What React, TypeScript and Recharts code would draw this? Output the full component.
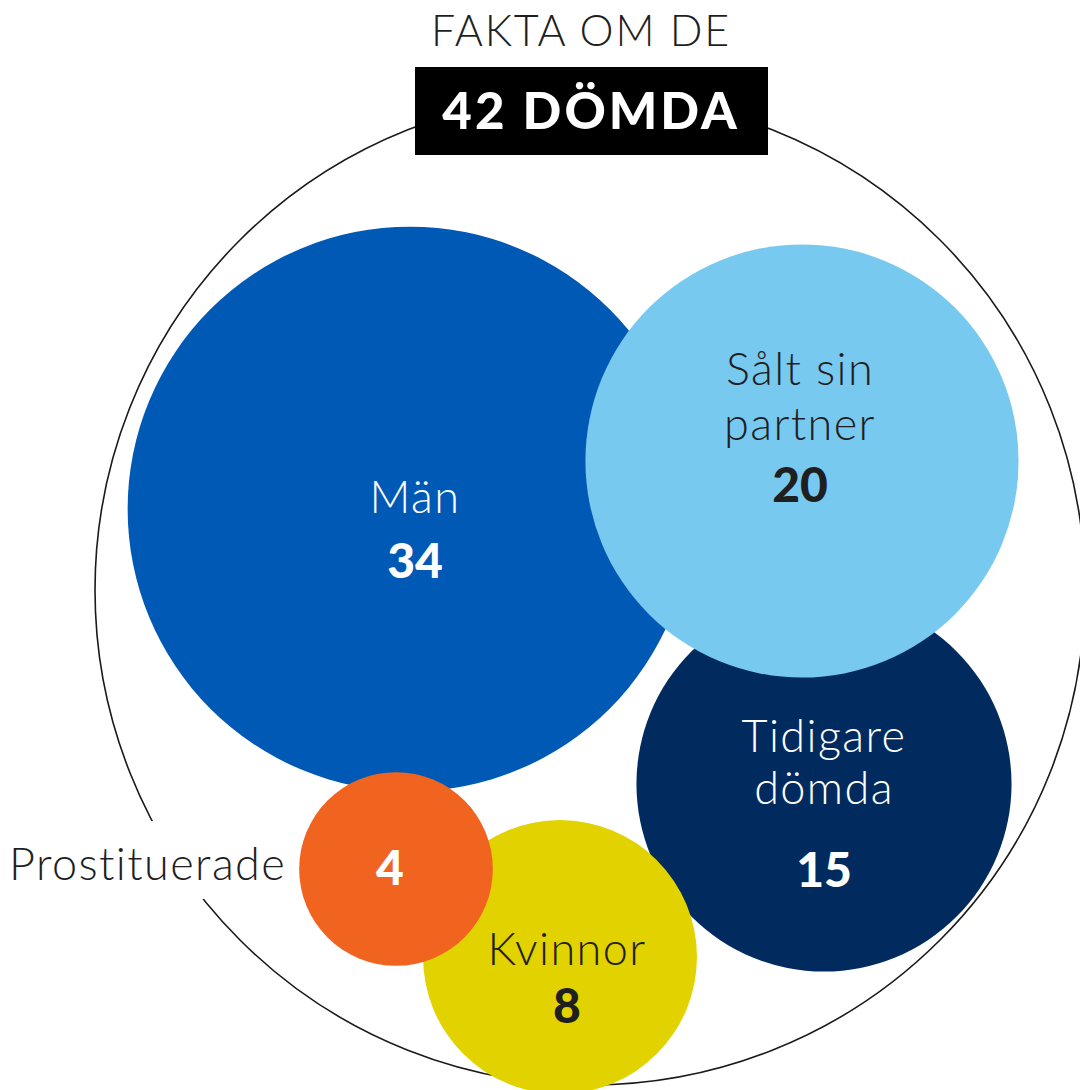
import React from "react";
import { ScatterChart, Scatter, XAxis, YAxis, ZAxis } from "recharts";

// ---- data ----
const categories = ["Män", "Tidigare dömda", "Sålt sin partner", "Kvinnor", "Prostituerade"];
const values = [34, 15, 20, 8, 4];
const total = 42;
const titleTop = "FAKTA OM DE";
const titleBox = `${total} DÖMDA`;

// ---- layout (bubble-pack positions in chart units = px) ----
const centerX = [410, 824, 802, 560, 396];
const centerY = [509, 784, 461, 957, 869];
const colors = ["#0059B5", "#012B5E", "#78C9F0", "#E1D200", "#F06420"];
const textColors = ["#ffffff", "#ffffff", "#1f1f1f", "#1f1f1f", "#ffffff"];
const nameLines = [["Män"], ["Tidigare", "dömda"], ["Sålt sin", "partner"], ["Kvinnor"], []];
const nameDy = [[4], [-32, 20], [-76, -21], [8], []];
const numDy = [69, 103, 41, 66, 16];
const textDx = [5, 0, -2, 7, -6];

const W = 1080;
const H = 1090;
const AREA_PER_UNIT = Math.PI * 2345;

const bubbles = categories.map((name, i) => ({
  name,
  value: values[i],
  x: centerX[i],
  y: centerY[i],
  idx: i,
}));

const outline = [{ x: 590, y: 590, r: 495 }];

const FONT = "Lato, 'Open Sans', sans-serif";
const LIGHT_SIZE = 45;
const LIGHT_SPACING = 1.4;
const NUM_SIZE = 48;

const BubbleShape = (props: any) => {
  const { cx, cy, size, payload } = props;
  const i = payload.idx;
  const r = Math.sqrt(Math.max(size, 0) / Math.PI);
  const tx = cx + textDx[i];
  return (
    <g>
      {categories[i] === "Prostituerade" && (
        <g>
          <rect x={0} y={cy - 48} width={cx - r - 8} height={78} fill="#ffffff" />
          <text
            x={cx - r - 13}
            y={cy + 11}
            textAnchor="end"
            fontFamily={FONT}
            fontWeight={300}
            fontSize={LIGHT_SIZE}
            letterSpacing={LIGHT_SPACING}
            fill="#1f1f1f"
          >
            {categories[i]}
          </text>
        </g>
      )}
      <circle cx={cx} cy={cy} r={r} fill={colors[i]} />
      {nameLines[i].map((ln, j) => (
        <text
          key={j}
          x={tx}
          y={cy + nameDy[i][j]}
          textAnchor="middle"
          fontFamily={FONT}
          fontWeight={300}
          fontSize={LIGHT_SIZE}
          letterSpacing={LIGHT_SPACING}
          fill={textColors[i]}
        >
          {ln}
        </text>
      ))}
      <text
        x={tx}
        y={cy + numDy[i]}
        textAnchor="middle"
        fontFamily={FONT}
        fontWeight={900}
        fontSize={NUM_SIZE}
        fill={textColors[i]}
      >
        {payload.value}
      </text>
    </g>
  );
};

const OutlineShape = (props: any) => {
  const { cx, cy, payload } = props;
  return <circle cx={cx} cy={cy} r={payload.r} fill="none" stroke="#1a1a1a" strokeWidth={1.6} />;
};

export default function App() {
  return (
    <div style={{ position: "absolute", left: 0, top: 0, width: W, height: H, background: "#fff", overflow: "hidden" }}>
      <ScatterChart width={W} height={H} margin={{ top: 0, right: 0, bottom: 0, left: 0 }}>
        <XAxis type="number" dataKey="x" domain={[0, W]} hide />
        <YAxis type="number" dataKey="y" domain={[0, H]} reversed hide />
        <ZAxis type="number" dataKey="value" domain={[0, total]} range={[0, total * AREA_PER_UNIT]} />
        <Scatter data={outline} shape={<OutlineShape />} isAnimationActive={false} />
        <Scatter data={bubbles} shape={<BubbleShape />} isAnimationActive={false} />
      </ScatterChart>
      <svg width={W} height={170} style={{ position: "absolute", left: 0, top: 0 }}>
        <text
          x={581}
          y={46}
          textAnchor="middle"
          fontFamily={FONT}
          fontWeight={300}
          fontSize={43}
          letterSpacing={1.8}
          fill="#1f1f1f"
        >
          {titleTop}
        </text>
        <rect x={415} y={67} width={353} height={88} fill="#000" />
        <text
          x={591}
          y={129}
          textAnchor="middle"
          fontFamily={FONT}
          fontWeight={900}
          fontSize={51}
          letterSpacing={3}
          fill="#fff"
        >
          {titleBox}
        </text>
      </svg>
    </div>
  );
}
